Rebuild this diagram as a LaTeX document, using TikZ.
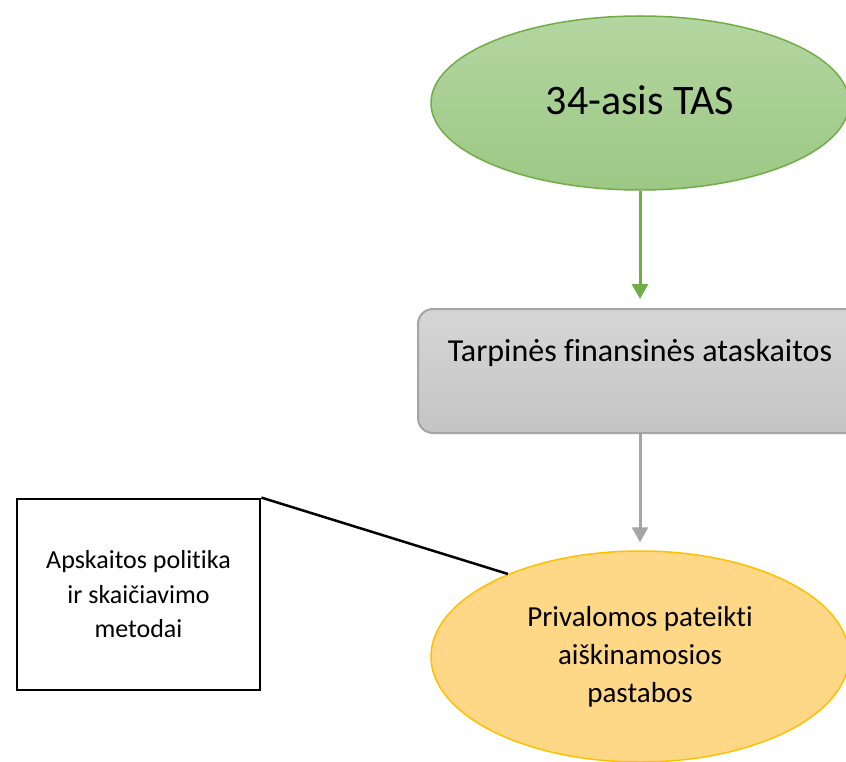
\documentclass[tikz,border=0pt]{standalone}
\usepackage{fontspec}
\setmainfont[Ligatures={NoCommon}]{Carlito}
\usetikzlibrary{arrows.meta,shapes.geometric}
\definecolor{grnline}{RGB}{112,173,71}
\definecolor{grntop}{RGB}{180,214,161}
\definecolor{grnbot}{RGB}{156,200,132}
\definecolor{gryline}{RGB}{165,165,165}
\definecolor{grytop}{RGB}{214,214,214}
\definecolor{grybot}{RGB}{196,196,196}
\definecolor{yelline}{RGB}{255,192,0}
\definecolor{yelfill}{RGB}{254,216,135}
\tikzset{
  greenell/.style={ellipse, draw=grnline, line width=1.5pt, top color=grntop, bottom color=grnbot, inner sep=0pt, minimum width=418pt, minimum height=174pt, font=\fontsize{42}{50}\selectfont},
  graybox/.style={rectangle, rounded corners=15pt, draw=gryline, line width=2pt, top color=grytop, bottom color=grybot, inner xsep=0pt, inner ysep=0pt, minimum width=444pt, text height=52pt, text depth=72pt, font=\fontsize{32}{38}\selectfont},
  yellell/.style={ellipse, draw=yelline, line width=1.5pt, fill=yelfill, inner sep=0pt, minimum width=418pt, minimum height=211pt, align=center, font=\fontsize{29}{38}\selectfont},
  notebox/.style={rectangle, draw=black, line width=2.8pt, fill=white, inner sep=0pt, minimum width=243pt, minimum height=191pt, align=center, font=\fontsize{26}{34.5}\selectfont},
  garrow/.style={line width=3pt, draw=grnline, -{Triangle[width=16pt,length=15pt]}},
  yarrow/.style={line width=3pt, draw=gryline, -{Triangle[width=16pt,length=15pt]}},
  link/.style={line width=2.5pt, draw=black}
}
\begin{document}
\begin{tikzpicture}[x=1pt,y=-1pt]
\useasboundingbox (0,0) rectangle (846,762);
\node[greenell] (tas) at (640,103) {\raisebox{5pt}{34-asis TAS}};
\node[graybox, anchor=north] (tfa) at (640,308) {Tarpinės finansinės ataskaitos};
\node[yellell] (ppa) at (640,656.5) {Privalomos pateikti\\aiškinamosios\\pastabos};
\node[notebox] (apm) at (138.5,594.5) {Apskaitos politika\\ir skaičiavimo\\metodai};
\draw[garrow, shorten >=9pt] (tas.south) -- (tfa.north);
\draw[yarrow, shorten >=8pt] (tfa.south) -- (ppa.north);
\draw[link] (apm.north east) -- (ppa.148);
\end{tikzpicture}
\end{document}
